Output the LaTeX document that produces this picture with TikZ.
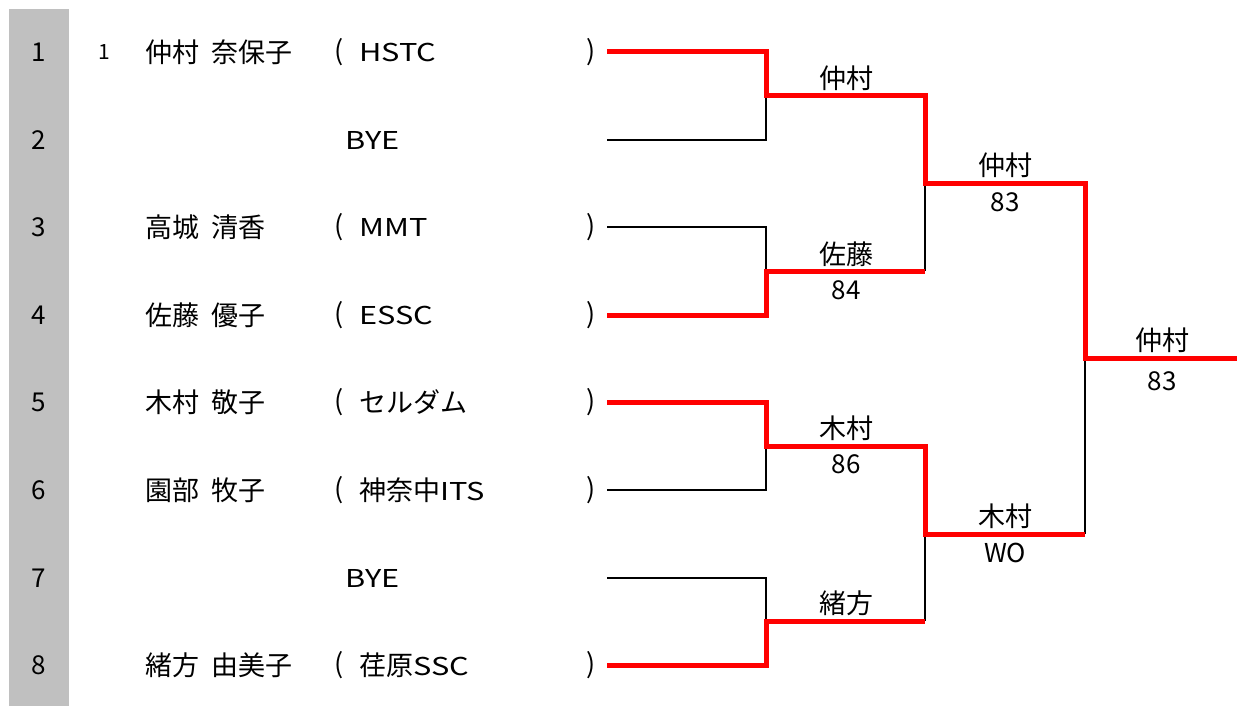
\documentclass[tikz,border=0pt]{standalone}
\usepackage{fontspec}
\setmainfont{Noto Sans CJK JP}
\newfontfamily\wide[Scale=0.91,FakeStretch=1.25]{Noto Sans CJK JP}
\usetikzlibrary{positioning}
\definecolor{colgray}{HTML}{C0C0C0}
\newcommand{\ngap}{\hspace{12pt}}

\begin{document}
\begin{tikzpicture}[x=1pt,y=-1pt,
    rowno/.style={font=\fontsize{26}{30}\selectfont,inner sep=0pt},
    seed/.style={font=\fontsize{21}{24}\selectfont,inner sep=0pt},
    player/.style={anchor=west,font=\fontsize{27}{32}\selectfont,inner sep=0pt},
    paren/.style={font=\fontsize{27}{32}\selectfont,inner sep=0pt},
    result/.style={font=\fontsize{27}{32}\selectfont,inner sep=0pt},
    score/.style={font=\fontsize{26}{30}\selectfont,inner sep=0pt},
    lose/.style={draw=black,line width=2.2pt},
    won/.style={draw=red,line width=5pt}]
    \useasboundingbox (0,0) rectangle (1237,706);
    \fill[colgray] (9,9) rectangle (69,706);

    \foreach \i/\y in {1/52,2/140,3/227,4/315,5/402,6/490,7/578,8/665}{
        \node[rowno] (n\i) at (39,\y) {\i};
        \coordinate (s\i) at (607,\y);
        \coordinate (e\i) at (766,\y);
    }

    \node[seed] (seed1) at (104,52) {1};
    \node[player] (p1) at (145,52) {仲村\ngap 奈保子};
    \node[player] (p3) at (145,227) {高城\ngap 清香};
    \node[player] (p4) at (145,315) {佐藤\ngap 優子};
    \node[player] (p5) at (145,402) {木村\ngap 敬子};
    \node[player] (p6) at (145,490) {園部\ngap 牧子};
    \node[player] (p8) at (145,665) {緒方\ngap 由美子};
    \node[result] (bye2) at (373,140) {\wide BYE};
    \node[result] (bye7) at (373,578) {\wide BYE};

    \foreach \i/\y/\club in {1/52/{\wide HSTC},3/227/{\wide MMT},4/315/{\wide ESSC},
        5/402/セルダム,6/490/{神奈中\wide ITS},8/665/{荏原\wide SSC}}{
        \node[paren] (l\i) at (339,\y) {(};
        \node[player] (c\i) at (359,\y) {\club};
        \node[paren] (r\i) at (591,\y) {)};
    }

    % bracket corners
    \coordinate (m1) at (766,96);
    \coordinate (m2) at (766,271);
    \coordinate (m3) at (766,446);
    \coordinate (m4) at (766,621);
    \coordinate (k1) at (925,96);
    \coordinate (k2) at (925,271);
    \coordinate (k3) at (925,446);
    \coordinate (k4) at (925,621);
    \coordinate (q1) at (925,183);
    \coordinate (q2) at (925,534);
    \coordinate (t1) at (1085,183);
    \coordinate (t2) at (1085,534);
    \coordinate (f1) at (1085,358);
    \coordinate (f2) at (1237,358);

    \draw[lose] (s2) -- (e2) -- (m1);
    \draw[lose] (s3) -- (e3) -- (m2);
    \draw[lose] (s6) -- (e6) -- (m3);
    \draw[lose] (s7) -- (e7) -- (m4);
    \draw[lose] (k2) -- (q1);
    \draw[lose] (k4) -- (q2);
    \draw[lose] (t2) -- (f1);

    \draw[won] (s1) -- (e1) -- (m1) -- (k1) -- (q1) -- (t1) -- (f1) -- (f2);
    \draw[won] (s4) -- (e4) -- (m2) -- (k2);
    \draw[won] (s5) -- (e5) -- (m3) -- (k3) -- (q2) -- (t2);
    \draw[won] (s8) -- (e8) -- (m4) -- (k4);

    \node[result] (w1) at (846,78) {仲村};
    \node[result] (w2) at (846,254) {佐藤};
    \node[score] (x2) at (846,290) {84};
    \node[result] (w3) at (846,428) {木村};
    \node[score] (x3) at (846,464) {86};
    \node[result] (w4) at (846,603) {緒方};
    \node[result] (w5) at (1005,165) {仲村};
    \node[score] (x5) at (1005,202) {83};
    \node[result] (w6) at (1005,516) {木村};
    \node[score] (x6) at (1005,553) {WO};
    \node[result] (w7) at (1162,340) {仲村};
    \node[score] (x7) at (1162,381) {83};
\end{tikzpicture}
\end{document}
